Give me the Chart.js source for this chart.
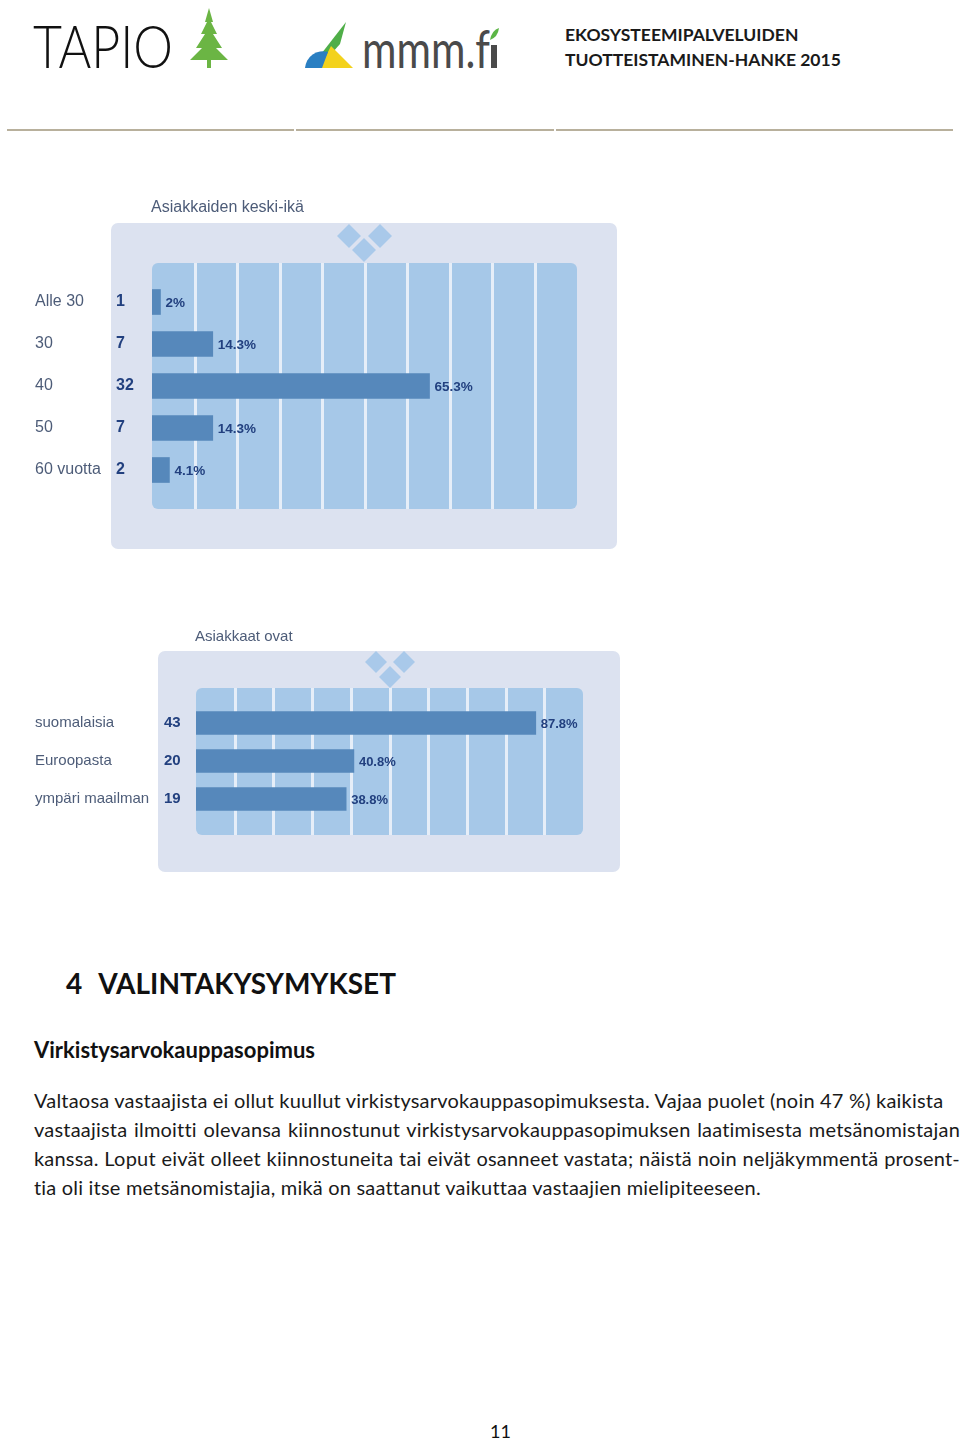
<!DOCTYPE html>
<html>
<head>
<meta charset="utf-8">
<script src="https://cdn.jsdelivr.net/npm/chart.js@4.4.0/dist/chart.umd.min.js"></script>
<style>
body{margin:0;background:#fff;width:960px;height:1438px;position:relative;overflow:hidden;font-family:Lato,"Open Sans",sans-serif;color:#111;}
.abs{position:absolute}
.hdr{left:565px;top:22px;font-weight:bold;font-size:17.5px;line-height:25px;color:#1a1a1a}
.rule{left:7px;top:129px;width:946px;height:2px;background:#b8b09c}
.gap{top:128px;width:2px;height:4px;background:#fff}
h1{position:absolute;left:66px;top:966px;margin:0;font-size:28px;font-weight:bold;color:#111}
h1 span{margin-left:16px}
h2{position:absolute;left:34px;top:1036px;margin:0;font-size:22px;font-weight:bold;color:#111}
.para{position:absolute;left:34px;top:1086px;width:926px;font-size:20px;letter-spacing:0.2px;line-height:29px;color:#1a1a1a}
.para div{white-space:nowrap}
.j{text-align:justify;text-align-last:justify}
.pg{left:490px;top:1420px;font-size:18px}
</style>
</head>
<body>

<svg class="abs" style="left:0;top:0" width="520" height="80">
  <text x="33" y="68" font-family="Lato, sans-serif" font-weight="300" font-size="60" textLength="140" lengthAdjust="spacingAndGlyphs" fill="#111">TAPIO</text>
  <g fill="#6bb544">
    <polygon points="209,8 213,22 211,22 217,34 213,34 222,48 216,48 228,60 211,60 211,68 207,68 207,60 190,60 202,48 196,48 205,34 201,34 207,22 205,22"/>
  </g>
  <polygon points="346,22 340,44 324,62 318,58 332,40" fill="#4fae48"/>
  <polygon points="331,46 353,68 320,68" fill="#f3d21c"/>
  <path d="M305,68 A18,18 0 0 1 328,52 L322,68 Z" fill="#2a7fc2"/>
  <text x="362" y="68" font-family="Lato, sans-serif" font-size="52" textLength="128" lengthAdjust="spacingAndGlyphs" fill="#4a4a4a">mmm.f</text>
  <rect x="491" y="45" width="6" height="23" fill="#4a4a4a"/>
  <path d="M490,40 Q492,30 499,28 Q498,37 490,40 Z" fill="#5cb646"/>
</svg>

<div class="abs hdr">EKOSYSTEEMIPALVELUIDEN<br>TUOTTEISTAMINEN-HANKE 2015</div>
<div class="abs rule"></div>
<div class="abs gap" style="left:294px"></div>
<div class="abs gap" style="left:554px"></div>

<canvas id="ageChart" class="abs" style="left:0;top:190px" width="640" height="370"></canvas>
<canvas id="originChart" class="abs" style="left:0;top:610px" width="640" height="280"></canvas>

<h1>4<span>VALINTAKYSYMYKSET</span></h1>
<h2>Virkistysarvokauppasopimus</h2>
<div class="para">
  <div>Valtaosa vastaajista ei ollut kuullut virkistysarvokauppasopimuksesta. Vajaa puolet (noin 47 %) kaikista</div>
  <div class="j">vastaajista ilmoitti olevansa kiinnostunut virkistysarvokauppasopimuksen laatimisesta metsänomistajan</div>
  <div class="j">kanssa. Loput eivät olleet kiinnostuneita tai eivät osanneet vastata; näistä noin neljäkymmentä prosent-</div>
  <div>tia oli itse metsänomistajia, mikä on saattanut vaikuttaa vastaajien mielipiteeseen.</div>
</div>
<div class="abs pg">11</div>

<script>
// data
const ageLabels = ['Alle 30', '30', '40', '50', '60 vuotta'];
const ageCounts = [1, 7, 32, 7, 2];
const agePct = [2, 14.3, 65.3, 14.3, 4.1];

const originLabels = ['suomalaisia', 'Euroopasta', 'ympäri maailman'];
const originCounts = [43, 20, 19];
const originPct = [87.8, 40.8, 38.8];

const gridSteps = [10, 20, 30, 40, 50, 60, 70, 80, 90];

const FONT = '"Liberation Sans", Arial, sans-serif';

function rr(ctx, x, y, w, h, r, color){
  ctx.fillStyle = color;
  ctx.beginPath();
  ctx.moveTo(x + r, y);
  ctx.arcTo(x + w, y, x + w, y + h, r);
  ctx.arcTo(x + w, y + h, x, y + h, r);
  ctx.arcTo(x, y + h, x, y, r);
  ctx.arcTo(x, y, x + w, y, r);
  ctx.closePath();
  ctx.fill();
}

function diamond(ctx, cx, cy, s){
  ctx.beginPath();
  ctx.moveTo(cx, cy - s);
  ctx.lineTo(cx + s, cy);
  ctx.lineTo(cx, cy + s);
  ctx.lineTo(cx - s, cy);
  ctx.closePath();
  ctx.fill();
}

function panelChart(id, title, labels, counts, pct, g){
  new Chart(document.getElementById(id), {
    type: 'bar',
    data: {
      labels: labels,
      datasets: [{data: pct, backgroundColor: '#5688bb', barThickness: g.bar, borderWidth: 0}]
    },
    options: {
      indexAxis: 'y',
      responsive: false,
      devicePixelRatio: 1,
      animation: false,
      layout: {padding: g.pad},
      scales: {
        x: {min: 0, max: 100, display: false},
        y: {display: false}
      },
      plugins: {legend: {display: false}, tooltip: {enabled: false}}
    },
    plugins: [{
      id: 'panel',
      beforeDraw(chart){
        const ctx = chart.ctx, a = chart.chartArea, xs = chart.scales.x;
        ctx.save();
        rr(ctx, g.panel[0], g.panel[1], g.panel[2], g.panel[3], 7, '#dce2f0');
        ctx.fillStyle = '#4d5c78';
        ctx.font = g.fs + 'px ' + FONT;
        ctx.fillText(title, g.titleX, g.titleY);
        ctx.fillStyle = '#a9c9ea';
        g.diamonds.forEach(d => diamond(ctx, d[0], d[1], g.ds));
        const top = a.top - g.ext[0], bot = a.bottom + g.ext[1];
        rr(ctx, a.left, top, a.right - a.left, bot - top, 6, '#a6c8e8');
        ctx.strokeStyle = '#e6eef8';
        ctx.lineWidth = 3;
        gridSteps.forEach(v => {
          const px = Math.round(xs.getPixelForValue(v)) + 0.5;
          ctx.beginPath();
          ctx.moveTo(px, top);
          ctx.lineTo(px, bot);
          ctx.stroke();
        });
        ctx.restore();
      },
      afterDatasetsDraw(chart){
        const ctx = chart.ctx, bars = chart.getDatasetMeta(0).data;
        ctx.save();
        ctx.textBaseline = 'middle';
        bars.forEach((b, i) => {
          ctx.fillStyle = '#4d5c78';
          ctx.font = g.fs + 'px ' + FONT;
          ctx.fillText(labels[i], g.nameX, b.y);
          ctx.fillStyle = '#22407f';
          ctx.font = 'bold ' + g.fs + 'px ' + FONT;
          ctx.fillText(String(counts[i]), g.countX, b.y);
          ctx.font = 'bold ' + g.pfs + 'px ' + FONT;
          ctx.fillText(pct[i] + '%', b.x + 5, b.y + 1);
        });
        ctx.restore();
      }
    }]
  });
}

panelChart('ageChart', 'Asiakkaiden keski-ikä', ageLabels, ageCounts, agePct, {
  pad: {left: 152, right: 63, top: 91, bottom: 69},
  bar: 25,
  panel: [111, 33, 506, 326],
  ext: [18, 18],
  titleX: 151, titleY: 22,
  diamonds: [[349, 46], [380, 46], [364, 60]],
  ds: 12,
  fs: 16, pfs: 13.5,
  nameX: 35, countX: 116
});

panelChart('originChart', 'Asiakkaat ovat', originLabels, originCounts, originPct, {
  pad: {left: 196, right: 57, top: 94, bottom: 72},
  bar: 23,
  panel: [158, 41, 462, 221],
  ext: [16, 17],
  titleX: 195, titleY: 31,
  diamonds: [[376, 52], [404, 52], [390, 67]],
  ds: 11,
  fs: 15, pfs: 13,
  nameX: 35, countX: 164
});
</script>
</body>
</html>
